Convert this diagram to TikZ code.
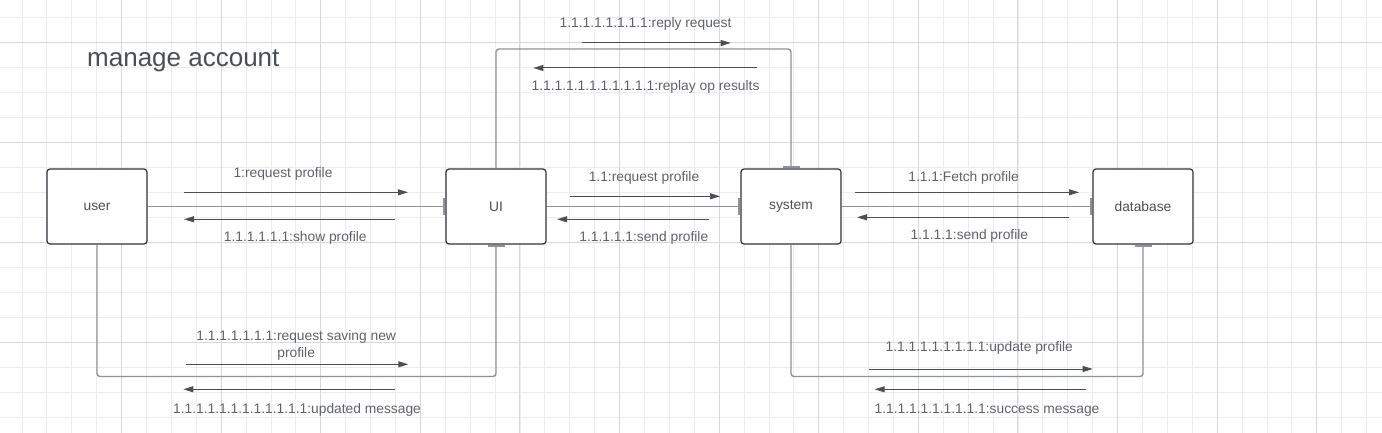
\documentclass[tikz,border=0pt]{standalone}
\usepackage{fontspec}
\setmainfont{Liberation Sans}
\usetikzlibrary{arrows.meta}
\definecolor{gridminor}{HTML}{EDEDED}
\definecolor{gridmajor}{HTML}{D8D8D8}
\definecolor{boxline}{HTML}{2E323A}
\definecolor{linkcol}{HTML}{8E9299}
\definecolor{msgcol}{HTML}{4A4F57}
\definecolor{txtcol}{HTML}{4A4F57}
\definecolor{lblcol}{HTML}{5E636B}

\begin{document}
\begin{tikzpicture}[x=1pt, y=-1pt,
boxnode/.style={rectangle, rounded corners=3pt, draw=boxline, line width=1.2pt, fill=white, minimum width=100pt, minimum height=75pt, inner sep=0pt, text=txtcol, font=\fontsize{13.8}{16.3}\selectfont},
msglabel/.style={inner sep=0pt, yshift=-1.5pt, align=center, text=lblcol, font=\fontsize{13.8}{16.3}\selectfont},
link/.style={draw=linkcol, line width=1.4pt, rounded corners=3pt, -{Bar[width=17pt, line width=2pt]}},
msg/.style={draw=msgcol, line width=1pt, -{Triangle[length=10pt, width=6pt]}}
]
    \useasboundingbox[fill=white] (0,0) rectangle (1382,433);
    % grid
    \foreach \i in {0,...,54} \draw[gridminor, line width=0.8pt] ({21.9+24.9*\i},0) -- ++(0,433);
    \foreach \j in {0,...,16} \draw[gridminor, line width=0.8pt] (0,{17.3+25*\j}) -- ++(1382,0);
    \foreach \i in {0,...,12} \draw[gridmajor, line width=1pt] ({121.5+99.6*\i},0) -- ++(0,433);
    \foreach \j in {0,...,3} \draw[gridmajor, line width=1pt] (0,{42.3+100*\j}) -- ++(1382,0);

    \node [anchor=base west, inner sep=0pt, text=txtcol, font=\fontsize{26}{30}\selectfont] (title) at (87,66.5) {manage account};

    \node [boxnode] (user) at (97,206.5) {user};
    \node [boxnode] (UI) at (496,206.5) {UI};
    \node [boxnode] (system) at (791,206.5) {system};
    \node [boxnode] (database) at (1143,206.5) {database};

    \coordinate (topY) at (0,49);
    \coordinate (lowY) at (0,376.5);

    \draw [link] (user) -- (UI);
    \draw [link] (UI) -- (system);
    \draw [link] (system) -- (database);
    \draw [link] (UI.north) -- (UI.north |- topY) -| (system.north);
    \draw [link] (user.south) -- (user.south |- lowY) -| (UI.south);
    \draw [link] (system.south) -- (system.south |- lowY) -| (database.south);

    % messages user <-> UI
    \coordinate (m1a) at (184,192.3);  \coordinate (m1b) at (408,192.3);
    \coordinate (m2a) at (395,219.3);  \coordinate (m2b) at (184,219.3);
    \draw [msg] (m1a) -- (m1b);
    \draw [msg] (m2a) -- (m2b);
    \node [msglabel] (l1) at (283,172.3) {1:request profile};
    \node [msglabel] (l2) at (295.3,236.3) {1.1.1.1.1.1:show profile};

    % messages UI <-> system
    \coordinate (m3a) at (570,196.3);  \coordinate (m3b) at (720,196.3);
    \coordinate (m4a) at (709,219.3);  \coordinate (m4b) at (557,219.3);
    \draw [msg] (m3a) -- (m3b);
    \draw [msg] (m4a) -- (m4b);
    \node [msglabel] (l3) at (644,176) {1.1:request profile};
    \node [msglabel] (l4) at (643.8,236.7) {1.1.1.1.1:send profile};

    % messages over the top loop
    \coordinate (m5a) at (581.7,43);  \coordinate (m5b) at (730.7,43);
    \coordinate (m6a) at (756.7,68);  \coordinate (m6b) at (533.3,68);
    \draw [msg] (m5a) -- (m5b);
    \draw [msg] (m6a) -- (m6b);
    \node [msglabel] (l5) at (645.5,22.7) {1.1.1.1.1.1.1.1:reply request};
    \node [msglabel] (l6) at (645.5,85) {1.1.1.1.1.1.1.1.1.1.1:replay op results};

    % messages system <-> database
    \coordinate (m7a) at (855.4,192.3);  \coordinate (m7b) at (1079,192.3);
    \coordinate (m8a) at (1068.7,217.3);  \coordinate (m8b) at (857,217.3);
    \draw [msg] (m7a) -- (m7b);
    \draw [msg] (m8a) -- (m8b);
    \node [msglabel] (l7) at (963.6,176) {1.1.1:Fetch profile};
    \node [msglabel] (l8) at (969.4,234) {1.1.1.1:send profile};

    % messages under the bottom loops
    \coordinate (m9a) at (868.7,369);  \coordinate (m9b) at (1092.7,369);
    \coordinate (m10a) at (1086,389.3);  \coordinate (m10b) at (874.7,389.3);
    \draw [msg] (m9a) -- (m9b);
    \draw [msg] (m10a) -- (m10b);
    \node [msglabel] (l9) at (979.3,346) {1.1.1.1.1.1.1.1.1:update profile};
    \node [msglabel] (l10) at (987,408.3) {1.1.1.1.1.1.1.1.1.1:success message};

    \coordinate (m11a) at (186,364.3);  \coordinate (m11b) at (408.3,364.3);
    \coordinate (m12a) at (395,389.3);  \coordinate (m12b) at (183.3,389.3);
    \draw [msg] (m11a) -- (m11b);
    \draw [msg] (m12a) -- (m12b);
    \node [msglabel] (l11) at (296.2,344) {1.1.1.1.1.1.1:request saving new\\profile};
    \node [msglabel] (l12) at (297,408.3) {1.1.1.1.1.1.1.1.1.1.1.1:updated message};
\end{tikzpicture}
\end{document}
